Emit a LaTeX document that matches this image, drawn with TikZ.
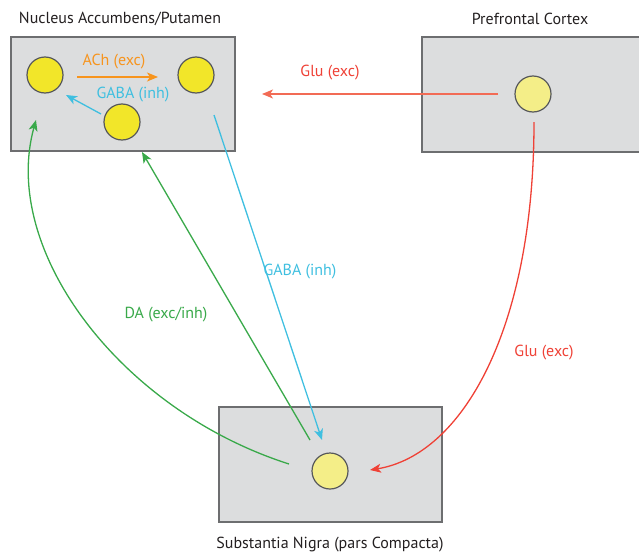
\documentclass[tikz,border=0pt]{standalone}
\usepackage{fontspec}
\setmainfont{PT Sans}
\usetikzlibrary{arrows.meta}
\definecolor{boxfill}{HTML}{DCDDDE}
\definecolor{boxline}{HTML}{6D6E70}
\definecolor{cellA}{HTML}{F2E629}
\definecolor{cellB}{HTML}{F4EE88}
\definecolor{cOrange}{HTML}{F7941D}
\definecolor{cCyan}{HTML}{3FBFE0}
\definecolor{cRed}{HTML}{EF4136}
\definecolor{cSalmon}{HTML}{F26B55}
\definecolor{cGreen}{HTML}{39A94A}
\definecolor{txt}{HTML}{231F20}
\tikzset{
  region/.style={draw=boxline, fill=boxfill, line width=2pt},
  cell/.style={circle, draw=boxline!80!black, line width=1.2pt, minimum size=36pt, inner sep=0pt},
  title/.style={font=\fontsize{16}{18}\selectfont, text=txt},
  lab/.style={font=\fontsize{16}{18}\selectfont},
  conn/.style={line width=1.3pt, -{Stealth[length=11pt,width=9pt,inset=3pt]}},
}
\begin{document}
\begin{tikzpicture}[x=1pt,y=-1pt]
\useasboundingbox (0,0) rectangle (639,554);
% regions
\draw[region] (11,37) rectangle (235,151);
\draw[region] (422,37) rectangle (645,152);
\draw[region] (219,407) rectangle (442,522);
\node[title] (tNA) at (120,19) {Nucleus Accumbens/Putamen};
\node[title] (tPFC) at (530,19) {Prefrontal Cortex};
\node[title] (tSN) at (330,545) {Substantia Nigra (pars Compacta)};
% cells
\node[cell, fill=cellA] (na1) at (45,75) {};
\node[cell, fill=cellA] (na2) at (196,75) {};
\node[cell, fill=cellA] (na3) at (122,122) {};
\node[cell, fill=cellB] (pfc) at (533,94) {};
\node[cell, fill=cellB] (sn) at (330,471) {};
% endpoints
\coordinate (achS) at (77,77);
\coordinate (achE) at (158,77);
\coordinate (gabaS) at (101,114);
\coordinate (gabaE) at (66,95);
\coordinate (gluS) at (498,94);
\coordinate (gluE) at (262,94);
\coordinate (glu2S) at (534,122);
\coordinate (glu2E) at (370,470);
\coordinate (gaba2S) at (214,115);
\coordinate (gaba2E) at (322,440);
\coordinate (da1S) at (310,440);
\coordinate (da1E) at (142,152);
\coordinate (da2S) at (289,464);
\coordinate (da2E) at (36,120);
% connectors
\draw[conn, cOrange] (achS) -- (achE);
\node[lab, text=cOrange] (lACh) at (114,62) {ACh (exc)};
\draw[conn, cCyan] (gabaS) -- (gabaE);
\node[lab, text=cCyan] (lGABA) at (133,95) {GABA (inh)};
\draw[conn, cSalmon] (gluS) -- (gluE);
\node[lab, text=cRed] (lGlu) at (330,73) {Glu (exc)};
\draw[conn, cRed] (glu2S) .. controls (534,330) and (462,455) .. (glu2E);
\node[lab, text=cRed] (lGlu2) at (544,353) {Glu (exc)};
\draw[conn, cCyan] (gaba2S) -- (gaba2E);
\node[lab, text=cCyan] (lGABA2) at (300,272) {GABA (inh)};
\draw[conn, cGreen] (da1S) -- (da1E);
\draw[conn, cGreen] (da2S) .. controls (120,410) and (0,250) .. (da2E);
\node[lab, text=cGreen] (lDA) at (166,315) {DA (exc/inh)};
\end{tikzpicture}
\end{document}
